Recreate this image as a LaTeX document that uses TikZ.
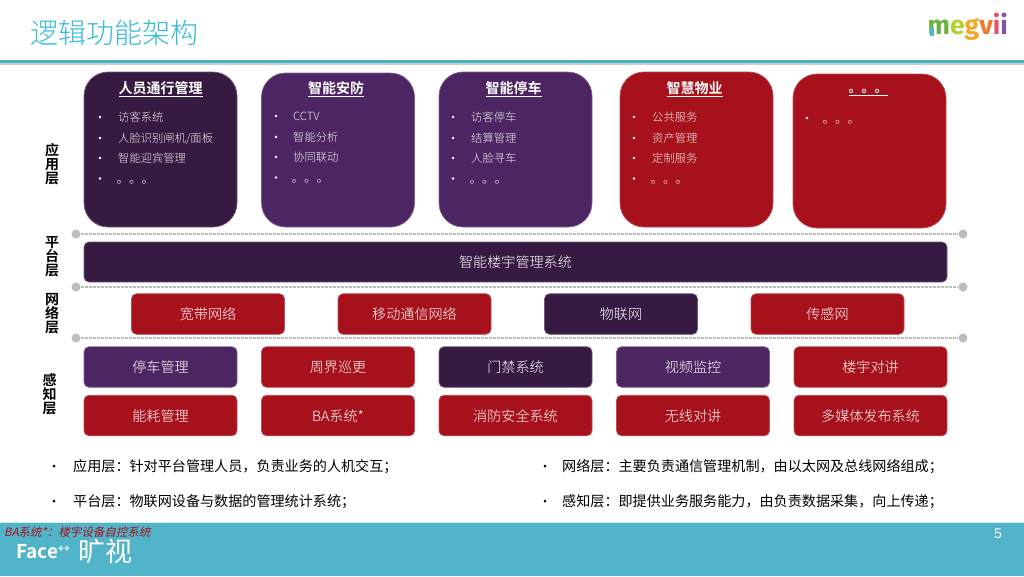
\documentclass[tikz,border=0pt]{standalone}
\usepackage{fontspec}
\setmainfont{Noto Sans CJK SC}[UprightFont={* Light},BoldFont={* Bold}]
\newfontfamily\cjkit{Noto Sans CJK SC}[FakeSlant=0.2]
\newfontfamily\cjkreg{Noto Sans CJK SC}
\newfontfamily\latinf{Liberation Sans}
\newfontfamily\logof{Fira Sans}
\definecolor{cDark}{HTML}{371A42}
\definecolor{cPurple}{HTML}{4E2563}
\definecolor{cRed}{HTML}{A6111C}
\definecolor{cTeal}{HTML}{52B4C9}
\definecolor{cTitle}{HTML}{35BBDA}
\definecolor{cRule}{HTML}{45B5CC}
\definecolor{cDash}{HTML}{BDBDBD}
\newcommand{\fs}[1]{\fontsize{#1}{#1}\selectfont}
\newcommand{\lw}[1]{\raisebox{-0.4pt}[\height][\depth]{#1}}
\tikzset{
  tile/.style={rounded corners=5pt,text=white,inner sep=0pt,font=\fs{14.1},anchor=center,line width=.7pt},
  bigtile/.style={rounded corners=24pt,inner sep=0pt,anchor=center,line width=.7pt},
  tDark/.style={fill=cDark,draw=cDark!72!white},
  tPurple/.style={fill=cPurple,draw=cPurple!72!white},
  tRed/.style={fill=cRed,draw=cRed!75!white},
  head/.style={text=white,font=\fs{14}\bfseries,inner sep=0pt,anchor=center},
  item/.style={text=white!92!black,font=\fs{11.3},inner sep=0pt,anchor=west},
  bul/.style={circle,fill=white,minimum size=2.8pt,inner sep=0pt},
  layer/.style={text=black,font=\fs{14}\bfseries,inner sep=0pt,anchor=center,align=center},
  note/.style={text=black,font=\cjkreg\fs{14.1},inner sep=0pt,anchor=west},
  nbul/.style={circle,fill=black,minimum size=3pt,inner sep=0pt},
  pin/.style={circle,fill=cDash,minimum size=9pt,inner sep=0pt},
  divider/.style={cDash,line width=1.2pt,dash pattern=on 3pt off 1pt}
}
\newcommand{\appitems}[9]{%
  \node[bul] (b#1a) at (#2,#4) {}; \node[item] (t#1a) at (#3,#4) {\lw{#7}};
  \node[bul] (b#1b) at (#2,#5) {}; \node[item] (t#1b) at (#3,#5) {\lw{#8}};
  \node[bul] (b#1c) at (#2,#6) {}; \node[item] (t#1c) at (#3,#6) {\lw{#9}};
}
\begin{document}
\begin{tikzpicture}[x=1pt,y=-1pt]
\useasboundingbox (0,0) rectangle (1024,576);
% header
\fill[black!20] (0,62) rectangle (1024,65);
\fill[cRule] (0,59.5) rectangle (1024,62.5);
\node[text=cTitle,font=\fs{28},inner sep=0pt,anchor=west] (title) at (30,33) {逻辑功能架构};
\node[inner sep=0pt,anchor=west,font=\logof\bfseries\fs{26.5}] (logo) at (927.5,27) {\textcolor[HTML]{6DB33F}{m}\textcolor[HTML]{B5CF2C}{e}\textcolor[HTML]{F5A623}{g}\textcolor[HTML]{F0772B}{v}\textcolor[HTML]{E2536B}{i}\textcolor[HTML]{7E57A8}{i}};
\fill[cTeal] (929.5,27) rectangle (933.5,36);
% footer
\fill[cTeal] (0,522) rectangle (1024,576);
\fill[white!70!cTeal] (0,522) rectangle (1024,523);
\node[text=cRed,font=\cjkit\fs{11.5},inner sep=0pt,anchor=west] (banote) at (4,532) {BA系统*：楼宇设备自控系统};
\node[text=white,font=\bfseries\fs{19},inner sep=0pt,anchor=west] (face) at (16,551.5) {Face\raisebox{6pt}{\fs{10}++}};
\node[text=white,font=\cjkreg\fs{27},inner sep=0pt,anchor=west] (kuangshi) at (78,551) {旷视};
\node[text=white,font=\latinf\fs{14},inner sep=0pt] (pageno) at (998,534) {5};
% dividers
\foreach \n/\y in {a/234,b/287,c/338}{
  \node[pin] (\n L) at (76,\y) {};
  \node[pin] (\n R) at (963,\y) {};
  \draw[divider] (\n L) -- (\n R);
}
% layer labels
\node[layer] (L1) at (52,164) {应\\用\\层};
\node[layer] (L2) at (52,257) {平\\台\\层};
\node[layer] (L3) at (52,314) {网\\络\\层};
\node[layer] (L4) at (49.5,394) {感\\知\\层};
% application tiles
\node[bigtile,tDark,minimum width=153pt,minimum height=155pt] (A1) at (160.5,149.5) {};
\node[bigtile,tPurple,minimum width=153pt,minimum height=154pt] (A2) at (338,150) {};
\node[bigtile,tPurple,minimum width=153pt,minimum height=155pt] (A3) at (515.5,149.5) {};
\node[bigtile,tRed,minimum width=153pt,minimum height=155pt] (A4) at (696.5,149.5) {};
\node[bigtile,tRed,minimum width=153pt,minimum height=154pt] (A5) at (869.5,151) {};
\node[head] (H1) at (160.5,89) {\underline{人员通行管理}};
\node[head] (H2) at (336,89) {\underline{智能安防}};
\node[head] (H3) at (513.5,89) {\underline{智能停车}};
\node[head] (H4) at (694.5,89) {\underline{智慧物业}};
\node[head,font=\fs{13}\bfseries] (H5) at (868,92.5) {\underline{。。。}};
% application items
\appitems{1}{100}{118}{117}{138}{158}{访客系统}{人脸识别闸机/面板}{智能迎宾管理}
\appitems{2}{276}{293}{116}{137}{157}{CCTV}{智能分析}{协同联动}
\appitems{3}{453}{471}{117}{138}{158}{访客停车}{结算管理}{人脸寻车}
\appitems{4}{634}{652}{117}{138}{158}{公共服务}{资产管理}{定制服务}
\node[bul] (b1d) at (100,178.5) {}; \node[item,font=\fs{12.5}] (t1d) at (116.5,182) {。。。};
\node[bul] (b2d) at (276,177.5) {}; \node[item,font=\fs{12.5}] (t2d) at (291.5,181) {。。。};
\node[bul] (b3d) at (453,178.5) {}; \node[item,font=\fs{12.5}] (t3d) at (469.5,182) {。。。};
\node[bul] (b4d) at (634,178.5) {}; \node[item,font=\fs{12.5}] (t4d) at (650.5,182) {。。。};
\node[bul] (b5a) at (807,118) {}; \node[item,font=\fs{12.5}] (t5a) at (822.5,122) {。。。};
% platform
\node[tile,tDark,minimum width=863pt,minimum height=40pt] (P) at (515.5,262) {\lw{智能楼宇管理系统}};
% network
\node[tile,tRed,minimum width=153pt,minimum height=40.5pt] (N1) at (208,314) {\lw{宽带网络}};
\node[tile,tRed,minimum width=153pt,minimum height=40.5pt] (N2) at (414.5,314) {\lw{移动通信网络}};
\node[tile,tDark,minimum width=153pt,minimum height=40.5pt] (N3) at (621,314) {\lw{物联网}};
\node[tile,tRed,minimum width=153pt,minimum height=40.5pt] (N4) at (827.5,314) {\lw{传感网}};
% perception
\node[tile,tPurple,minimum width=153pt,minimum height=40.5pt] (S1) at (160.5,367) {\lw{停车管理}};
\node[tile,tRed,minimum width=153pt,minimum height=40.5pt] (S2) at (338,367) {\lw{周界巡更}};
\node[tile,tDark,minimum width=153pt,minimum height=40.5pt] (S3) at (515.5,367) {\lw{门禁系统}};
\node[tile,tPurple,minimum width=153pt,minimum height=40.5pt] (S4) at (693,367) {\lw{视频监控}};
\node[tile,tRed,minimum width=153pt,minimum height=40.5pt] (S5) at (870.5,367) {\lw{楼宇对讲}};
\node[tile,tRed,minimum width=153pt,minimum height=40.5pt] (R1) at (160.5,415.5) {\lw{能耗管理}};
\node[tile,tRed,minimum width=153pt,minimum height=40.5pt] (R2) at (338,415.5) {\lw{BA系统*}};
\node[tile,tRed,minimum width=153pt,minimum height=40.5pt] (R3) at (515.5,415.5) {\lw{消防安全系统}};
\node[tile,tRed,minimum width=153pt,minimum height=40.5pt] (R4) at (693,415.5) {\lw{无线对讲}};
\node[tile,tRed,minimum width=153pt,minimum height=40.5pt] (R5) at (870.5,415.5) {\lw{多媒体发布系统}};
% notes
\node[nbul] (nb1) at (54,466) {};
\node[note] (n1) at (73,466) {\lw{应用层：针对平台管理人员，负责业务的人机交互；}};
\node[nbul] (nb2) at (54,501) {};
\node[note] (n2) at (73,501) {\lw{平台层：物联网设备与数据的管理统计系统；}};
\node[nbul] (nb3) at (545,466) {};
\node[note] (n3) at (562,466) {\lw{网络层：主要负责通信管理机制，由以太网及总线网络组成；}};
\node[nbul] (nb4) at (545,501) {};
\node[note] (n4) at (562,501) {\lw{感知层：即提供业务服务能力，由负责数据采集，向上传递；}};
\end{tikzpicture}
\end{document}
